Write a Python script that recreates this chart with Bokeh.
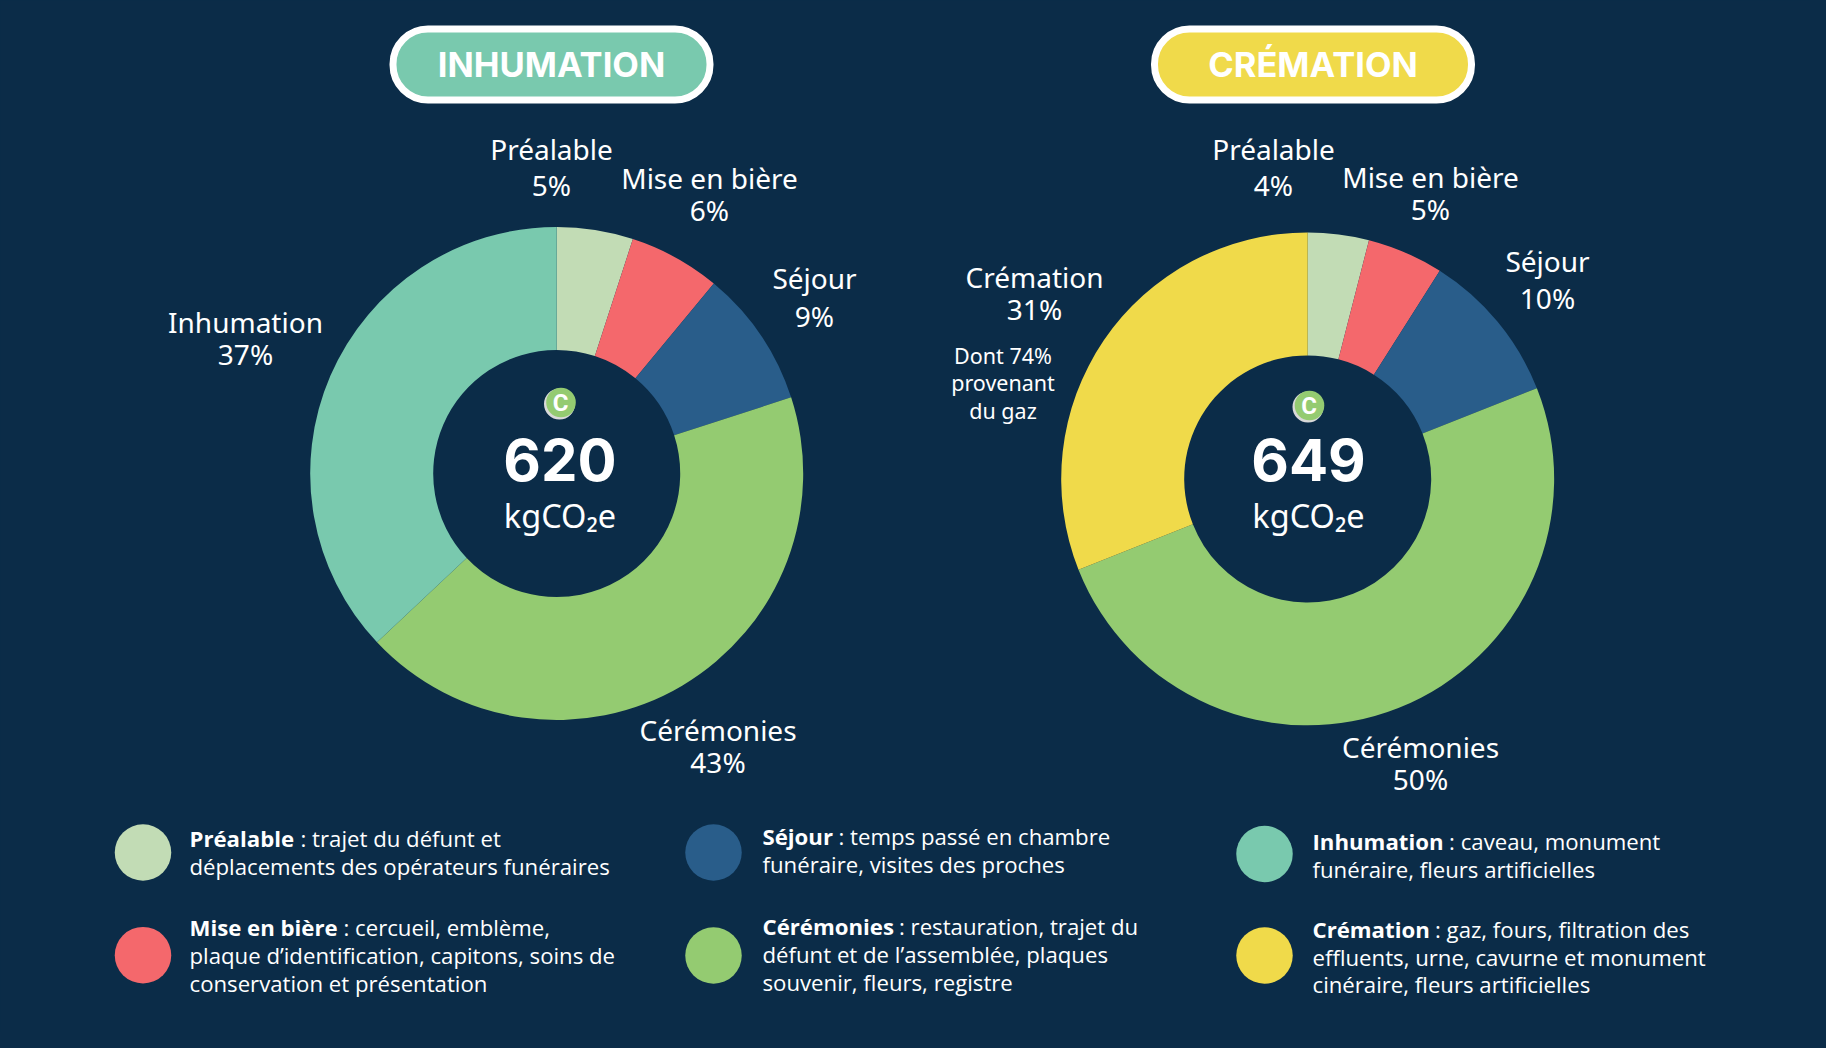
from math import pi
from bokeh.plotting import figure
from bokeh.models import Range1d, ColumnDataSource
from bokeh.core.properties import value
from bokeh.embed import file_html
from bokeh.resources import INLINE

categories = ["Préalable", "Mise en bière", "Séjour", "Cérémonies", "Inhumation"]
categories_crem = ["Préalable", "Mise en bière", "Séjour", "Cérémonies", "Crémation"]
values_inhumation = [5, 6, 9, 43, 37]
values_cremation = [4, 5, 10, 50, 31]
titles = ["INHUMATION", "CRÉMATION"]
totals = ["620", "649"]
unit = "kgCO₂e"
note_lines = ["Dont 74%", "provenant", "du gaz"]

legend_bold = ["Préalable", "Mise en bière", "Séjour", "Cérémonies", "Inhumation", "Crémation"]
legend_first = [": trajet du défunt et", ": cercueil, emblème,", ": temps passé en chambre",
                ": restauration, trajet du", ": caveau, monument", ": gaz, fours, filtration des"]
legend_rest = [["déplacements des opérateurs funéraires"],
               ["plaque d’identification, capitons, soins de", "conservation et présentation"],
               ["funéraire, visites des proches"],
               ["défunt et de l’assemblée, plaques", "souvenir, fleurs, registre"],
               ["funéraire, fleurs artificielles"],
               ["effluents, urne, cavurne et monument", "cinéraire, fleurs artificielles"]]

# styles and layout
BG = "#0b2c48"
COL = {"Préalable": "#c2dcb5", "Mise en bière": "#f4686c", "Séjour": "#295d8a",
       "Cérémonies": "#94cb71", "Inhumation": "#79c9ae", "Crémation": "#f0da4a"}
LABEL_FONT = value("Noto Sans")
LEG_FONT = value("Open Sans")

p = figure(width=1810, height=1032, output_backend="svg", toolbar_location=None,
           x_range=Range1d(0, 1810), y_range=Range1d(1032, 0), min_border=0,
           background_fill_color=BG, border_fill_color=BG, outline_line_color=None)
p.axis.visible = False
p.grid.visible = False


def donut(cx, cy, cats, vals):
    start, st, en, col = 0.0, [], [], []
    for c, v in zip(cats, vals):
        a0 = pi / 2 - start / sum(vals) * 2 * pi
        start += v
        a1 = pi / 2 - start / sum(vals) * 2 * pi
        st.append(a0)
        en.append(a1)
        col.append(COL[c])
    src = ColumnDataSource(dict(start=st, end=en, color=col))
    p.annular_wedge(x=cx, y=cy, inner_radius=123.5, outer_radius=246.5, start_angle="start",
                    end_angle="end", direction="clock", fill_color="color", line_color=None, source=src)


donut(556.2, 473, categories, values_inhumation)
donut(1307.2, 478.4, categories_crem, values_cremation)


def txt(x, y, s, size, font=LABEL_FONT, style="normal", align="center", color="white"):
    p.text(x=[x], y=[y], text=[s], text_font=font, text_font_size=f"{size}px", text_font_style=style,
           text_color=color, text_align=align, text_baseline="middle")


# pills
for (x0, x1), t, c in zip([(392.5, 709.5), (1154, 1471)], titles, [COL["Inhumation"], COL["Crémation"]]):
    p.quad(left=[x0], right=[x1], top=[28.5], bottom=[99.5], border_radius=35, fill_color=c,
           line_color="white", line_width=7)
    txt((x0 + x1) / 2, 64, t, 34.5, value("Inter"), "bold")

# pie labels
pie_pos_1 = [(551, 148, 184), (709, 177, 209), (814, 277, 315), (717.5, 729, 761), (245, 321, 353)]
pie_pos_2 = [(1273, 148, 184), (1430, 176, 208), (1547, 260, 297), (1420, 746, 778), (1034, 276, 308)]
for cats, vals, pos in [(categories, values_inhumation, pie_pos_1), (categories_crem, values_cremation, pie_pos_2)]:
    for c, v, (x, y0, y1) in zip(cats, vals, pos):
        txt(x, y0, c, 28)
        txt(x, y1, f"{v}%", 28)

for s, y in zip(note_lines, [355, 382, 410]):
    txt(1002.5, y, s, 21.5)

# centres
for cx, t, y_icon in zip([560, 1308.5], totals, [402.5, 405.5]):
    p.circle(x=[cx - 1], y=[y_icon + 1], radius=15.5, fill_color="#d9d9d9", line_color=None)
    p.circle(x=[cx + 0.5], y=[y_icon - 0.5], radius=14.8, fill_color=COL["Cérémonies"], line_color=None)
    txt(cx, y_icon, "C", 24, value("Roboto"), "bold")
    txt(cx - 0.5, 459, t, 58, value("Inter"), "bold")
    txt(cx - 0.5, 515, unit, 32.5, value("Noto Sans"))

# legend
leg_circles = [(142.5, 852), (142.5, 954.7), (713, 852), (713, 955), (1264, 853.5), (1264, 955)]
leg_text = [(189, 838), (189, 927), (762, 836), (762, 926), (1312, 841), (1312, 929)]
bold_w = [111, 154, 76, 136.5, 136.6, 122.5]
line_gap = [28, 28, 28, 28, 27.7, 27.5]
for i, b in enumerate(legend_bold):
    cx, cy = leg_circles[i]
    p.ellipse(x=[cx], y=[cy], width=56.5, height=56.5, fill_color=COL[b], line_color=None)
    x, y = leg_text[i]
    txt(x, y, b, 22.2, LEG_FONT, "bold", "left")
    txt(x + bold_w[i], y, legend_first[i], 22.2, LEG_FONT, "normal", "left")
    for j, s in enumerate(legend_rest[i]):
        txt(x, y + line_gap[i] * (j + 1), s, 22.2, LEG_FONT, "normal", "left")

html = file_html(p, INLINE)
html = html.replace("<head>", f"<head><style>html,body{{background:{BG};}}</style>", 1)
open("out.html", "w").write(html)
